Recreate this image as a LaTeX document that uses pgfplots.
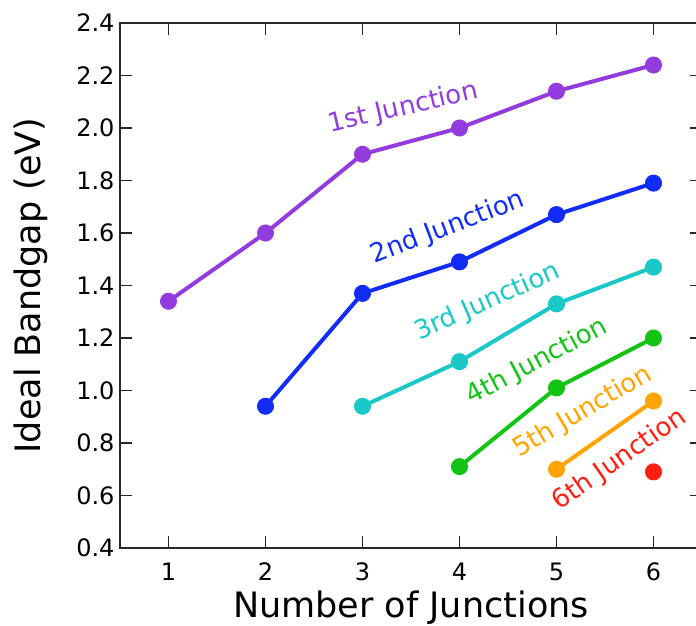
\documentclass[border=0pt]{standalone}
\usepackage{pgfplots}
\pgfplotsset{compat=1.18}
\usepackage{fontspec}
\setmainfont{DejaVu Sans}
\usetikzlibrary{calc}
\definecolor{cA}{RGB}{146,60,222}
\definecolor{cB}{RGB}{18,44,248}
\definecolor{cC}{RGB}{26,200,200}
\definecolor{cD}{RGB}{20,196,20}
\definecolor{cE}{RGB}{255,164,0}
\definecolor{cF}{RGB}{255,30,16}
\begin{document}
\begin{tikzpicture}
\begin{axis}[
  scale only axis,
  width=582pt, height=525pt,
  xmin=0.5, xmax=6.5, ymin=0.4, ymax=2.4,
  xtick={1,2,3,4,5,6},
  ytick={0.4,0.6,0.8,1.0,1.2,1.4,1.6,1.8,2.0,2.2,2.4},
  yticklabel style={/pgf/number format/fixed,/pgf/number format/fixed zerofill,/pgf/number format/precision=1, xshift=-2pt},
  /pgf/number format/assume math mode=true,
  tick align=inside,
  major tick length=12pt,
  axis line style={line width=1.6pt, black!85},
  every tick/.style={line width=1.6pt, black!85},
  tick label style={font=\fontsize{24}{28}\selectfont},
  xticklabel style={yshift=-11pt},
  label style={font=\fontsize{35}{42}\selectfont},
  xlabel={Number of Junctions},
  ylabel={Ideal Bandgap (eV)},
  xlabel style={yshift=-3pt},
  ylabel style={yshift=22pt},
  every axis plot/.append style={line width=4pt, mark=*, mark size=6.5pt},
  clip=false,
]
\addplot[cA, mark options={fill=cA}] coordinates {(1,1.34) (2,1.60) (3,1.90) (4,2.00) (5,2.14) (6,2.24)};
\addplot[cB, mark options={fill=cB}] coordinates {(2,0.94) (3,1.37) (4,1.49) (5,1.67) (6,1.79)};
\addplot[cC, mark options={fill=cC}] coordinates {(3,0.94) (4,1.11) (5,1.33) (6,1.47)};
\addplot[cD, mark options={fill=cD}] coordinates {(4,0.71) (5,1.01) (6,1.20)};
\addplot[cE, mark options={fill=cE}] coordinates {(5,0.70) (6,0.96)};
\addplot[cF, mark options={fill=cF}, only marks] coordinates {(6,0.69)};
\node[cA, rotate=13, font=\fontsize{26}{30}\selectfont] at (axis cs:3.42,2.076) {1st Junction};
\node[cB, rotate=21, font=\fontsize{26}{30}\selectfont] at (axis cs:3.88,1.62) {2nd Junction};
\node[cC, rotate=24, font=\fontsize{26}{30}\selectfont] at (axis cs:4.29,1.337) {3rd Junction};
\node[cD, rotate=28, font=\fontsize{26}{30}\selectfont] at (axis cs:4.80,1.109) {4th Junction};
\node[cE, rotate=30.5, font=\fontsize{26}{30}\selectfont] at (axis cs:5.27,0.918) {5th Junction};
\node[cF, rotate=35, font=\fontsize{26}{30}\selectfont] at (axis cs:5.65,0.735) {6th Junction};
\end{axis}
\pgfresetboundingbox
\path[use as bounding box] ($(current axis.south west)+(-120pt,-78pt)$) rectangle ($(current axis.north west)+(576pt,23pt)$);
\end{tikzpicture}
\end{document}
